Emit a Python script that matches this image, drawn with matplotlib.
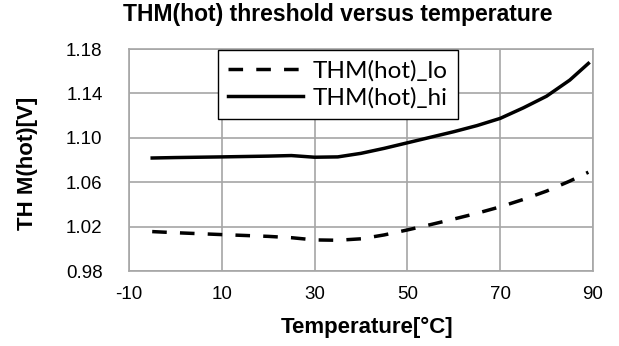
import matplotlib.pyplot as plt

# Threshold data read per temperature point
temp_c = [-5, 0, 10, 20, 25, 30, 35, 40, 45, 50, 55, 60, 65, 70, 75, 80, 85, 89]
thm_lo = [1.0155, 1.0145, 1.0128, 1.0112, 1.0100, 1.0080, 1.0077, 1.0090, 1.0125, 1.0170, 1.0218, 1.0268, 1.0320, 1.0378, 1.0445, 1.0520, 1.0610, 1.0690]
thm_hi = [1.0818, 1.0822, 1.0828, 1.0835, 1.0840, 1.0825, 1.0828, 1.0860, 1.0905, 1.0955, 1.1005, 1.1055, 1.1110, 1.1175, 1.1270, 1.1375, 1.1520, 1.1670]

x_ticks = [-10, 10, 30, 50, 70, 90]
y_ticks = [0.98, 1.02, 1.06, 1.10, 1.14, 1.18]

plt.rcParams["font.family"] = ["Liberation Sans", "DejaVu Sans"]
plt.rcParams["axes.unicode_minus"] = False

fig = plt.figure(figsize=(6.19, 3.46), dpi=100)
ax = fig.add_axes([129 / 619, 1 - 271 / 346, (593 - 129) / 619, (271 - 49) / 346])

ax.plot(temp_c, thm_lo, color="black", lw=2.5, ls=(0, (4.2, 3.8)), label="THM(hot)_lo")
ax.plot(temp_c, thm_hi, color="black", lw=2.5, label="THM(hot)_hi")

ax.set_xlim(-10, 90)
ax.set_ylim(0.98, 1.18)
ax.set_xticks(x_ticks)
ax.set_yticks(y_ticks)
ax.set_yticklabels([f"{v:.2f}" for v in y_ticks])
ax.tick_params(length=0, labelsize=13.5)
ax.tick_params(axis="x", pad=11)
ax.tick_params(axis="y", pad=19)

grid_col = "#a6a6a6"
ax.grid(True, color=grid_col, lw=1.2)
ax.set_axisbelow(True)
for s in ax.spines.values():
    s.set_color(grid_col)
    s.set_linewidth(1.2)

fig.text(338 / 619, 1 - 15 / 346, "THM(hot) threshold versus temperature",
         ha="center", va="center", fontsize=16.5, fontweight="bold")
fig.text(367 / 619, 1 - 327 / 346, "Temperature[°C]",
         ha="center", va="center", fontsize=16, fontweight="bold")
fig.text(27 / 619, 1 - 163 / 346, "TH M(hot)[V]", rotation=90,
         ha="center", va="center", fontsize=16, fontweight="bold")

leg = ax.legend(loc="upper left", bbox_to_anchor=(218 / 619, 1 - 50 / 346),
                bbox_transform=fig.transFigure, borderaxespad=0,
                fancybox=False, framealpha=1, edgecolor="black",
                prop={"family": "Lato", "size": 17.5}, handlelength=3.1,
                handletextpad=0.4, borderpad=0.4, labelspacing=0.25)
leg.get_frame().set_linewidth(1.0)

fig.savefig("out.png", dpi=100)
